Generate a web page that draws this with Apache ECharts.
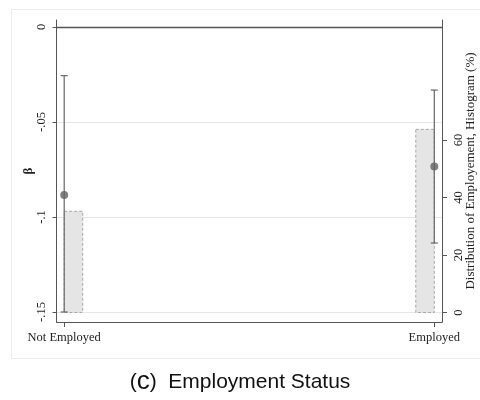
<!DOCTYPE html>
<html>
<head>
<meta charset="utf-8">
<script src="https://cdn.jsdelivr.net/npm/echarts@6/dist/echarts.min.js"></script>
<style>html,body{margin:0;padding:0;background:#fff}#c{width:480px;height:400px}</style>
</head>
<body>
<div id="c"></div>
<script>
// ---- data ----
const categories = ['Not Employed', 'Employed'];
const catPos = [0, 1];
const estimates = [-0.0884, -0.0734];
const ciLow = [-0.1500, -0.1137];
const ciHigh = [-0.0256, -0.0332];
const histLeft = [0, 0.95];
const histRight = [0.05, 1.0];
const histPct = [35.2, 63.7];
const leftTickValues = [-0.15, -0.1, -0.05, 0];
const leftTickLabels = ['-.15', '-.1', '-.05', '0'];
const rightTickValues = [0, 20, 40, 60];
const rightTickLabels = ['0', '20', '40', '60'];

const serif = '"Liberation Serif", "DejaVu Serif", serif';
const axisCol = '#555';

const chart = echarts.init(document.getElementById('c'), null, {renderer: 'canvas'});

const histData = histLeft.map((x0, i) => [x0, histRight[i], histPct[i]]);
const ciData = catPos.map((x, i) => [x, ciLow[i], ciHigh[i]]);
const ptData = catPos.map((x, i) => [x, estimates[i]]);

chart.setOption({
  animation: false,
  backgroundColor: '#fff',
  grid: {left: 56.5, right: 38, top: 20, bottom: 78, containLabel: false, outerBoundsMode: 'none'},
  xAxis: {
    type: 'value', min: -0.0208, max: 1.0208,
    axisLine: {show: true, onZero: false, lineStyle: {color: axisCol, width: 1}},
    axisTick: {show: true, length: 5, customValues: catPos, lineStyle: {color: axisCol}},
    axisLabel: {
      customValues: catPos, margin: 9, color: '#222', fontFamily: serif, fontSize: 12.5,
      formatter: v => categories[catPos.indexOf(Math.round(v))] || ''
    },
    splitLine: {show: false}
  },
  yAxis: [
    {
      type: 'value', position: 'left', min: -0.155263, max: 0.003684,
      name: 'β', nameLocation: 'middle', nameGap: 21, nameRotate: 90, nameMoveOverlap: false,
      nameTextStyle: {fontFamily: serif, fontSize: 13, fontWeight: 'bold', color: '#222'},
      axisLine: {show: true, onZero: false, lineStyle: {color: axisCol, width: 1}},
      axisTick: {show: true, length: 4, customValues: leftTickValues, lineStyle: {color: axisCol}},
      axisLabel: {
        customValues: leftTickValues, rotate: 90, margin: 8, color: '#222', fontFamily: serif, fontSize: 12.5,
        formatter: v => {
          const i = leftTickValues.findIndex(t => Math.abs(t - v) < 1e-6);
          return i >= 0 ? leftTickLabels[i] : '';
        }
      },
      splitLine: {show: true, lineStyle: {color: '#e6e6e6', width: 1}}
    },
    {
      type: 'value', position: 'right', min: -3.30, max: 101.74,
      name: 'Distribution of Employement, Histogram (%)', nameLocation: 'middle', nameGap: 22, nameRotate: 90,
      nameMoveOverlap: false,
      nameTextStyle: {fontFamily: serif, fontSize: 13, color: '#222'},
      axisLine: {show: true, onZero: false, lineStyle: {color: axisCol, width: 1}},
      axisTick: {show: true, length: 5, customValues: rightTickValues, lineStyle: {color: axisCol}},
      axisLabel: {
        customValues: rightTickValues, rotate: 90, margin: 10, color: '#222', fontFamily: serif, fontSize: 12.5,
        formatter: v => {
          const i = rightTickValues.findIndex(t => Math.abs(t - v) < 1e-6);
          return i >= 0 ? rightTickLabels[i] : '';
        }
      },
      splitLine: {show: false}
    }
  ],
  series: [
    {
      type: 'custom', name: 'hist', yAxisIndex: 1, z: 1,
      encode: {x: [0, 1], y: 2},
      data: histData,
      renderItem: (params, api) => {
        const p0 = api.coord([api.value(0), 0]);
        const p1 = api.coord([api.value(1), api.value(2)]);
        return {
          type: 'rect',
          shape: {x: p0[0], y: p1[1], width: p1[0] - p0[0], height: p0[1] - p1[1]},
          style: {fill: '#e5e5e5', stroke: '#a8a8a8', lineWidth: 1, lineDash: [3, 2]}
        };
      }
    },
    {
      type: 'custom', name: 'ci', yAxisIndex: 0, z: 3,
      encode: {x: 0, y: [1, 2]},
      data: ciData,
      renderItem: (params, api) => {
        const lo = api.coord([api.value(0), api.value(1)]);
        const hi = api.coord([api.value(0), api.value(2)]);
        const w = 3.5;
        const st = {stroke: '#666', lineWidth: 1.2};
        return {
          type: 'group',
          children: [
            {type: 'line', shape: {x1: lo[0], y1: lo[1], x2: hi[0], y2: hi[1]}, style: st},
            {type: 'line', shape: {x1: lo[0] - w, y1: lo[1], x2: lo[0] + w, y2: lo[1]}, style: st},
            {type: 'line', shape: {x1: hi[0] - w, y1: hi[1], x2: hi[0] + w, y2: hi[1]}, style: st}
          ]
        };
      }
    },
    {
      type: 'scatter', name: 'beta', yAxisIndex: 0, z: 4,
      data: ptData, symbol: 'circle', symbolSize: 8,
      itemStyle: {color: '#626262'},
      markLine: {
        silent: true, symbol: ['none', 'none'], symbolSize: 0, label: {show: false},
        lineStyle: {color: '#555', type: 'solid', width: 1.3},
        data: [{yAxis: 0}]
      }
    }
  ],
  graphic: [
    {type: 'rect', left: 9, top: 7, z: -10, shape: {x: 0, y: 0, width: 490, height: 349},
     style: {fill: 'none', stroke: '#ececec', lineWidth: 1}},
    {type: 'text', x: 240, y: 382, z: 10,
     style: {
       text: '{p|(}{c|c}{p|)}  Employment Status',
       rich: {p: {fontSize: 21, fontFamily: '"Liberation Sans", Arial, sans-serif', fill: '#111'},
              c: {fontSize: 26, fontFamily: '"Liberation Sans", Arial, sans-serif', fill: '#111'}},
       fontSize: 21, fontFamily: '"Liberation Sans", Arial, sans-serif', fill: '#111',
       align: 'center', verticalAlign: 'middle'
     }}
  ]
});
</script>
</body>
</html>
